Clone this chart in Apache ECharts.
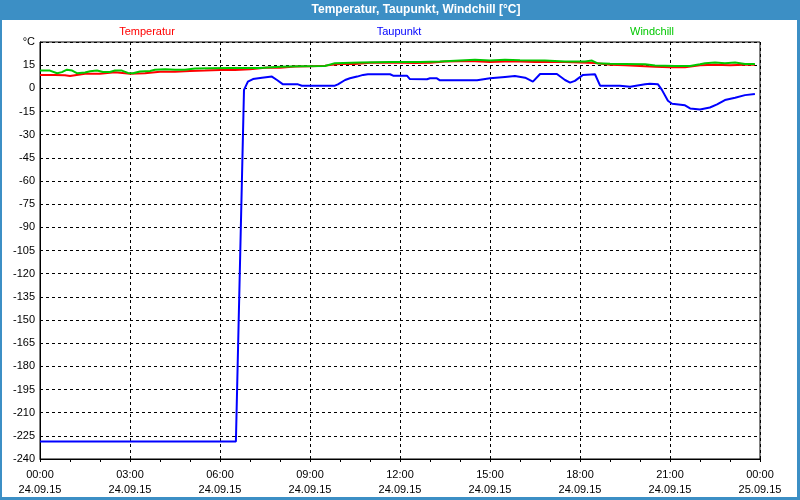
<!DOCTYPE html>
<html>
<head>
<meta charset="utf-8">
<script src="https://cdn.jsdelivr.net/npm/echarts@6/dist/echarts.min.js"></script>
<style>
html,body{margin:0;padding:0;background:#fff;}
#c{width:800px;height:500px;}
</style>
</head>
<body>
<div id="c"></div>
<script>
var titleText = 'Temperatur, Taupunkt, Windchill [°C]';
var seriesNames = ['Temperatur', 'Taupunkt', 'Windchill'];
var seriesColors = ['#ff0000', '#0000ff', '#00c800'];
var dateLabels = ['24.09.15', '25.09.15'];
var yTopLabel = '°C';

var tempHours = [0,0.5,0.83,1.0,1.5,2.0,2.5,3.0,3.5,4.0,4.5,5.0,5.5,6.0,6.5,7.0,7.5,8.0,8.5,9.0,9.5,10.0,10.5,11.0,11.5,12.0,12.5,13.0,13.5,14.0,14.5,15.0,15.5,16.0,16.5,17.0,17.5,18.0,18.5,19.0,19.5,20.0,20.5,21.0,21.5,22.0,22.5,23.0,23.5,23.83];
var tempValues = [8.7,8.6,8.5,8.0,9.5,9.5,10.4,9.5,9.8,10.8,10.8,11.2,11.5,11.9,11.9,12.3,13.4,13.4,14.1,14.3,14.7,15.8,15.8,16.5,16.5,16.5,16.4,16.5,17.3,17.6,17.5,17.0,17.3,17.3,17.1,17.0,17.0,16.8,16.4,15.2,15.0,14.5,13.9,13.7,13.7,15.0,15.2,15.0,15.2,15.2];

var dewHours = [0,6.53,6.8,6.93,7.1,7.4,7.73,7.9,8.1,8.6,8.73,9.83,9.93,10.17,10.33,10.57,10.77,10.93,11.67,11.77,12.23,12.33,12.9,13.0,13.23,13.33,14.57,15.0,15.5,15.83,16.17,16.43,16.67,17.23,17.5,17.67,17.83,18.1,18.5,18.67,19.33,19.67,20.17,20.33,20.6,20.73,20.93,21.07,21.5,21.67,22.0,22.33,22.57,22.83,23.17,23.5,23.83];
var dewValues = [-228.7,-228.7,-1,4.3,6.0,6.9,7.6,5.4,2.6,2.6,1.7,1.7,2.6,5.4,6.5,7.6,8.7,9.1,9.1,8.2,8.2,6.0,5.9,6.5,6.5,5.2,5.2,6.5,7.4,8.0,6.9,4.3,9.3,9.3,5.4,3.7,4.8,8.7,9.1,1.7,1.7,1.0,2.6,3.0,2.6,-1,-8,-10.0,-11.0,-13.0,-13.7,-12.4,-10.4,-7.6,-6.1,-4.4,-3.7];

var windHours = [0,0.33,0.57,0.73,0.9,1.07,1.23,1.5,1.67,1.9,2.1,2.33,2.5,2.73,2.93,3.1,3.33,3.67,3.83,4.17,4.5,4.83,5.17,5.67,6.33,7.33,8.0,8.67,9.5,9.83,10.67,11.67,12.67,13.33,14.0,14.5,15.0,15.5,16.0,16.83,17.5,18.17,18.4,18.57,19.0,19.5,20.17,20.5,21.17,21.67,22.0,22.17,22.5,22.83,23.17,23.5,23.83];
var windValues = [11.5,11.5,9.8,10.5,12.1,11.5,9.8,10.3,11.0,11.5,10.6,10.6,11.5,11.5,10.0,9.8,10.9,11.2,12.0,12.4,12.0,12.0,12.8,13.0,13.2,13.2,13.9,14.3,14.5,16.3,16.7,17.0,17.0,17.3,18.0,18.5,18.0,18.5,18.2,18.0,17.4,17.4,18.0,16.3,15.9,15.8,15.6,14.8,14.5,14.5,15.6,16.3,16.7,16.2,16.7,15.8,15.8];

function zip(a, b) { return a.map(function (t, i) { return [t, b[i]]; }); }
function pad(n) { return (n < 10 ? '0' : '') + n; }

var FONT = '"Liberation Sans", Arial, sans-serif';
var frameBlue = '#3c8fc5';
var dash = [3, 3];

var chart = echarts.init(document.getElementById('c'), null, {renderer: 'canvas'});
chart.setOption({
  animation: false,
  backgroundColor: '#ffffff',
  textStyle: {fontFamily: FONT},
  grid: {left: 40, right: 40, top: 42, bottom: 41, show: true, borderColor: '#000', borderWidth: 1, backgroundColor: 'transparent'},
  xAxis: {
    type: 'value', min: 0, max: 24, interval: 3,
    axisLine: {show: true, onZero: false, lineStyle: {color: '#000', width: 1}},
    axisTick: {show: true, length: 3, lineStyle: {color: '#000'}},
    minorTick: {show: true, splitNumber: 3, length: 3, lineStyle: {color: '#000'}},
    splitLine: {show: true, lineStyle: {color: '#000', type: dash, width: 1}},
    axisLabel: {
      color: '#000', fontSize: 11, fontFamily: FONT, margin: 8, lineHeight: 15,
      formatter: function (v) {
        var h = Math.round(v);
        if (h >= 24) return '00:00\n' + dateLabels[1];
        return pad(h) + ':00\n' + dateLabels[0];
      }
    }
  },
  yAxis: {
    type: 'value', min: -240, max: 30, interval: 15,
    axisLine: {show: true, onZero: false, lineStyle: {color: '#000', width: 1}},
    axisTick: {show: false},
    splitLine: {show: true, lineStyle: {color: '#000', type: dash, width: 1}},
    axisLabel: {
      color: '#000', fontSize: 11, fontFamily: FONT, margin: 5,
      formatter: function (v) { return v === 30 ? yTopLabel : String(v); }
    }
  },
  graphic: [
    {type: 'rect', left: 0, top: 0, shape: {width: 800, height: 20}, style: {fill: frameBlue}, z: 100},
    {type: 'rect', left: 0, top: 0, shape: {width: 2, height: 500}, style: {fill: frameBlue}, z: 100},
    {type: 'rect', left: 797, top: 0, shape: {width: 3, height: 500}, style: {fill: frameBlue}, z: 100},
    {type: 'rect', left: 0, top: 497, shape: {width: 800, height: 3}, style: {fill: frameBlue}, z: 100},
    {type: 'text', x: 416, y: 10, z: 101, style: {text: titleText, fill: '#fff', font: 'bold 12px ' + FONT, textAlign: 'center', textVerticalAlign: 'middle'}},
    {type: 'text', x: 147, y: 32, z: 101, style: {text: seriesNames[0], fill: seriesColors[0], font: '11px ' + FONT, textAlign: 'center', textVerticalAlign: 'middle'}},
    {type: 'text', x: 399, y: 32, z: 101, style: {text: seriesNames[1], fill: seriesColors[1], font: '11px ' + FONT, textAlign: 'center', textVerticalAlign: 'middle'}},
    {type: 'text', x: 652, y: 32, z: 101, style: {text: seriesNames[2], fill: seriesColors[2], font: '11px ' + FONT, textAlign: 'center', textVerticalAlign: 'middle'}}
  ],
  series: [
    {name: seriesNames[0], type: 'line', data: zip(tempHours, tempValues), showSymbol: false, lineStyle: {color: seriesColors[0], width: 2}, itemStyle: {color: seriesColors[0]}, z: 3},
    {name: seriesNames[1], type: 'line', data: zip(dewHours, dewValues), showSymbol: false, lineStyle: {color: seriesColors[1], width: 2}, itemStyle: {color: seriesColors[1]}, z: 4},
    {name: seriesNames[2], type: 'line', data: zip(windHours, windValues), showSymbol: false, lineStyle: {color: seriesColors[2], width: 2}, itemStyle: {color: seriesColors[2]}, z: 5}
  ]
});
</script>
</body>
</html>
